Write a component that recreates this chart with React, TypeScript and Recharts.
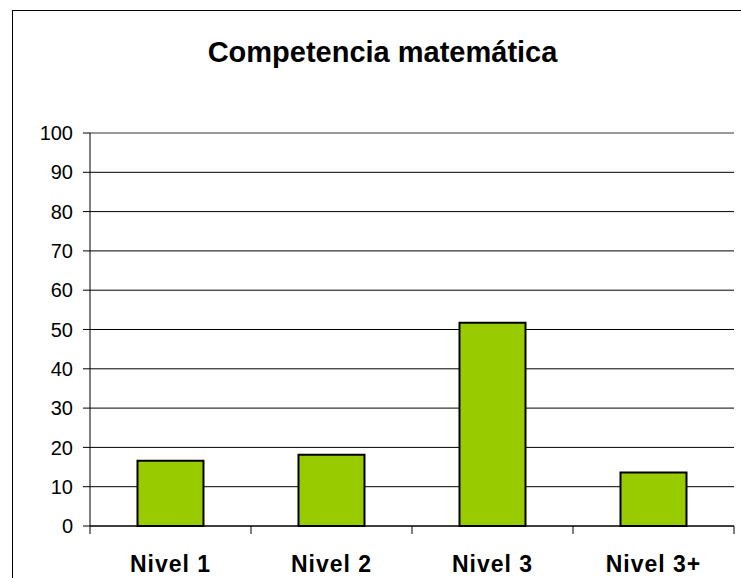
import { Bar, BarChart, CartesianGrid, ReferenceLine, XAxis, YAxis } from 'recharts'

const categories = ['Nivel 1', 'Nivel 2', 'Nivel 3', 'Nivel 3+']
const values = [16.6, 18.1, 51.7, 13.6]
const yTicks = [0, 10, 20, 30, 40, 50, 60, 70, 80, 90, 100]

const data = categories.map((name, i) => ({ name, value: values[i] }))

const font = 'Arial, "Liberation Sans", sans-serif'

function CategoryTick(props: any) {
  const { x, y, payload, index } = props
  const half = payload.offset ?? 0
  return (
    <g>
      <line x1={x - half} y1={y - 8} x2={x - half} y2={y} stroke="#000" />
      {index === categories.length - 1 && (
        <line x1={x + half} y1={y - 8} x2={x + half} y2={y} stroke="#000" />
      )}
      <text
        x={x}
        y={y + 38}
        textAnchor="middle"
        fontFamily={font}
        fontWeight="bold"
        fontSize={23}
        letterSpacing={1}
        fill="#000"
      >
        {payload.value}
      </text>
    </g>
  )
}

export default function App() {
  return (
    <div style={{ position: 'absolute', left: 0, top: 0, width: 741, height: 578, overflow: 'hidden', background: '#fff' }}>
      <div
        style={{
          position: 'absolute',
          left: 12,
          top: 10,
          width: 800,
          height: 700,
          border: '1.5px solid #000',
        }}
      />
      <div
        style={{
          position: 'absolute',
          left: 0,
          width: 765,
          top: 38,
          textAlign: 'center',
          fontFamily: font,
          fontWeight: 'bold',
          fontSize: 29,
          lineHeight: '29px',
        }}
      >
        Competencia matemática
      </div>
      <div style={{ position: 'absolute', left: 0, top: 0 }}>
        <BarChart
          width={741}
          height={578}
          data={data}
          margin={{ top: 133, right: 7, bottom: 0, left: 0 }}
          barCategoryGap="29.5%"
        >
          <CartesianGrid vertical={false} stroke="#000" strokeWidth={1} />
          <XAxis
            dataKey="name"
            height={52}
            axisLine={{ stroke: '#000' }}
            tickLine={false}
            tick={<CategoryTick />}
            interval={0}
          />
          <YAxis
            domain={[0, 100]}
            ticks={yTicks}
            width={90}
            interval={0}
            axisLine={{ stroke: '#000' }}
            tickLine={{ stroke: '#000' }}
            tickSize={7}
            tickMargin={10}
            tick={{ fill: '#000', fontSize: 20, fontFamily: font }}
          />
          <YAxis
            yAxisId="right"
            orientation="right"
            width={0}
            domain={[0, 100]}
            tick={false}
            tickLine={false}
            axisLine={{ stroke: '#999', strokeWidth: 2 }}
          />
          <ReferenceLine y={100} stroke="#999" strokeWidth={2} />
          <Bar dataKey="value" fill="#99cc00" stroke="#000" strokeWidth={2} isAnimationActive={false} />
        </BarChart>
      </div>
    </div>
  )
}
